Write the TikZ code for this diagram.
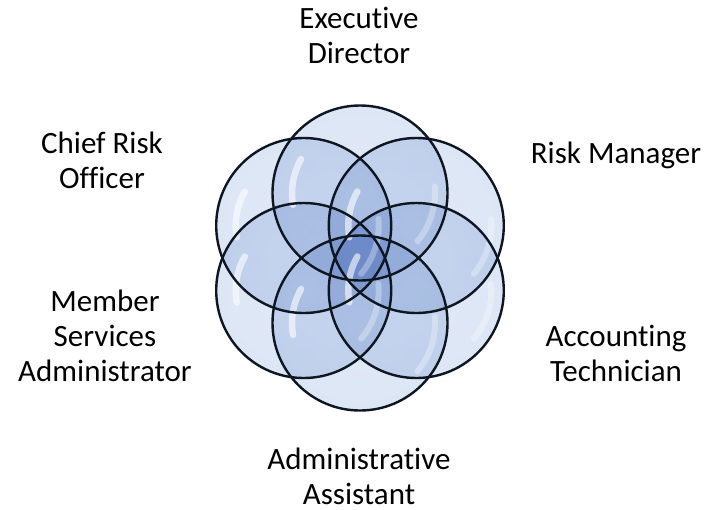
\documentclass[tikz,border=0pt]{standalone}
\usepackage{fontspec}
\setmainfont{Carlito}[Ligatures={NoCommon,NoRare,NoContextual}]
\usetikzlibrary{calc}

% bubble colours: pale centre, blue rim
\definecolor{bubA}{HTML}{E2E9F6}
\definecolor{bubB}{HTML}{DAE5F5}
\definecolor{bubC}{HTML}{ACC2E6}
\definecolor{bubD}{HTML}{7C9DD2}
\definecolor{bubE}{HTML}{5373B0}
\definecolor{rimline}{HTML}{0E1620}

\pgfdeclareradialshading{bubbleshade}{\pgfpoint{0bp}{0bp}}{%
  color(0bp)=(bubA); color(36bp)=(bubB); color(43.5bp)=(bubC);
  color(48bp)=(bubD); color(50bp)=(bubE)}

% centred lines, 35pt apart, reference point on the first baseline
\newcommand\lines[1]{\vtop{\baselineskip=35pt\lineskiplimit=-100pt
  \halign{\hfil##\hfil\cr#1\crcr}}}
% plain t followed by i, without the joined ti glyph
\newcommand\ti{t\kern0pt i}

\tikzset{
  lab/.style={anchor=base, inner sep=0pt, font=\fontsize{31}{35}\selectfont},
  bubblefill/.style={shading=bubbleshade, blend mode=multiply},
  bubbleline/.style={draw=rimline, line width=2.4pt},
  gloss/.style={white, line width=6.5pt, line cap=round, opacity=0.6},
  glow/.style={white, line width=6pt, line cap=round, opacity=0.3},
}

\begin{document}
\begin{tikzpicture}[x=1pt, y=-1pt]
  \useasboundingbox (0,0) rectangle (706,509);
  \fill[white] (0,0) rectangle (706,509);

  % centre of the flower and the six circle centres
  \coordinate (ctr) at (360,258);
  \foreach \a/\n in {90/ed, 30/rm, -30/at, -90/aa, -150/ms, 150/cr}
    \coordinate (c\n) at ($(ctr)+(\a:65pt)$);

  % shaded bubbles, multiplied so overlaps deepen
  \foreach \n in {ed, rm, at, aa, ms, cr}
    \shade[bubblefill] (c\n) circle[radius=87.5pt];

  % glossy highlights
  \foreach \n in {ed, rm, at, aa, ms, cr} {
    \begin{scope}[shift={(c\n)}]
      \draw[gloss] (150:68pt) arc[start angle=150, end angle=190, radius=68pt];
      \draw[glow] (-40:75pt) arc[start angle=-40, end angle=5, radius=75pt];
    \end{scope}
  }

  % outlines
  \foreach \n in {ed, rm, at, aa, ms, cr}
    \draw[bubbleline] (c\n) circle[radius=87.5pt];

  % labels
  \node[lab] (ed) at (359,28)  {\lines{Execu\ti ve\cr Director}};
  \node[lab] (rm) at (616,163) {\lines{Risk Manager}};
  \node[lab] (at) at (616,346) {\lines{Accounting\cr Technician}};
  \node[lab] (aa) at (359,469) {\lines{Administra\ti ve\cr Assistant}};
  \node[lab] (ms) at (105,311) {\lines{Member\cr Services\cr Administrator}};
  \node[lab] (cr) at (102,153) {\lines{Chief Risk\cr Officer}};
\end{tikzpicture}
\end{document}
